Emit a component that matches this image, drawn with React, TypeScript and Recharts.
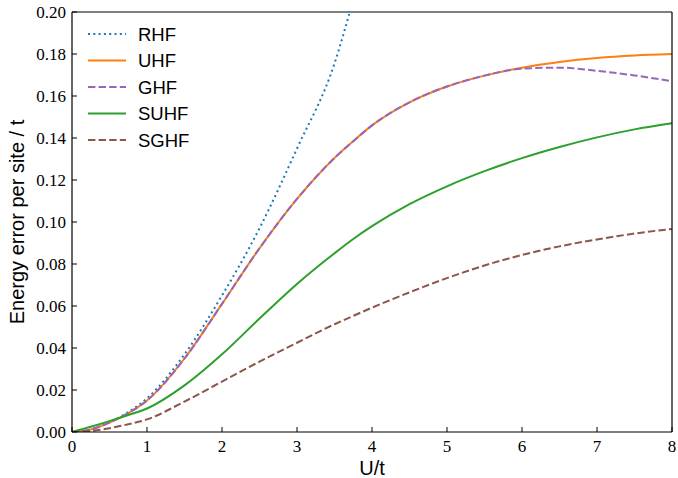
import React from 'react';
import { LineChart, Line, XAxis, YAxis } from 'recharts';

if (typeof document !== 'undefined') {
  document.body.style.margin = '0';
  document.body.style.overflow = 'hidden';
}

// U/t grid
const uValues = [0, 0.25, 0.5, 0.75, 1, 1.5, 2, 2.5, 3, 3.5, 3.75, 4, 4.5, 5, 5.5, 6, 6.5, 7, 7.5, 8];

const rhf = [0, 0.0012, 0.0046, 0.0095, 0.016, 0.037, 0.065, 0.097, 0.135, 0.1755, 0.206];
const uhf = [0, 0.0012, 0.0045, 0.009, 0.015, 0.035, 0.061, 0.0875, 0.111, 0.1305, 0.1385, 0.146, 0.157, 0.1645, 0.1697, 0.1735, 0.1762, 0.1781, 0.1793, 0.18];
const ghf = [0, 0.0012, 0.0045, 0.009, 0.015, 0.035, 0.061, 0.0875, 0.111, 0.1305, 0.1385, 0.146, 0.157, 0.1645, 0.1697, 0.173, 0.1735, 0.172, 0.1698, 0.167];
const suhf = [0, 0.0025, 0.0052, 0.0081, 0.0112, 0.0222, 0.037, 0.054, 0.0705, 0.0851, 0.0919, 0.098, 0.1085, 0.117, 0.1242, 0.1304, 0.1357, 0.1403, 0.1441, 0.147];
const sghf = [0, 0.0005, 0.0018, 0.0037, 0.006, 0.0145, 0.024, 0.0335, 0.0425, 0.0513, 0.0553, 0.0592, 0.0665, 0.0733, 0.0793, 0.0843, 0.0884, 0.0917, 0.0945, 0.0967];

const xTicks = [0, 1, 2, 3, 4, 5, 6, 7, 8];
const yTicks = [0, 0.02, 0.04, 0.06, 0.08, 0.1, 0.12, 0.14, 0.16, 0.18, 0.2];

const series = [
  { key: 'RHF', color: '#1f77b4', dash: '2 3.3' },
  { key: 'UHF', color: '#ff7f0e', dash: undefined },
  { key: 'GHF', color: '#9467bd', dash: '7.4 3.2' },
  { key: 'SUHF', color: '#2ca02c', dash: undefined },
  { key: 'SGHF', color: '#8c564b', dash: '7.4 3.2' },
];

const rows = uValues.map((u, i) => ({
  u,
  RHF: rhf[i],
  UHF: uhf[i],
  GHF: ghf[i],
  SUHF: suhf[i],
  SGHF: sghf[i],
}));

const serifFont = "'Liberation Serif', serif";
const sans = "'Liberation Sans', Arial, sans-serif";

function XTick(props: any) {
  const { x, y, payload } = props;
  return (
    <g>
      <text x={x} y={y + 13} textAnchor="middle" style={{ fontFamily: serifFont, fontSize: 17 }} fill="#000">
        {payload.value}
      </text>
    </g>
  );
}

function YTick(props: any) {
  const { x, y, payload } = props;
  return (
    <g>
      <text x={x} y={y + 6} textAnchor="end" style={{ fontFamily: serifFont, fontSize: 17 }} fill="#000">
        {Number(payload.value).toFixed(2)}
      </text>
    </g>
  );
}

function YLabel(props: any) {
  const vb = props.viewBox;
  const x = vb.x + 17;
  const y = vb.y + vb.height / 2;
  return (
    <text x={x} y={y} transform={`rotate(-90, ${x}, ${y})`} textAnchor="middle" dominantBaseline="central"
      style={{ fontFamily: sans, fontSize: 20 }} fill="#000">
      Energy error per site / t
    </text>
  );
}

function XLabel(props: any) {
  const vb = props.viewBox;
  return (
    <text x={vb.x + vb.width / 2} y={475} textAnchor="middle" style={{ fontFamily: sans, fontSize: 20 }} fill="#000">
      U/t
    </text>
  );
}

function LegendBox() {
  return (
    <svg width={200} height={160} style={{ position: 'absolute', left: 0, top: 0 }}>
      {series.map((s, i) => {
        const y = 34 + i * 26.5;
        return (
          <g key={s.key}>
            <line x1={88} x2={126} y1={y} y2={y} stroke={s.color} strokeWidth={2} strokeDasharray={s.dash} />
            <text x={138} y={y} dominantBaseline="central" style={{ fontFamily: sans, fontSize: 18.5 }} fill="#000">
              {s.key}
            </text>
          </g>
        );
      })}
    </svg>
  );
}

const frame = { stroke: '#000', strokeWidth: 1.2 };

export default function App() {
  return (
    <div style={{ position: 'relative', width: 678, height: 478, overflow: 'hidden', background: '#fff' }}>
      <LineChart width={678} height={478} data={rows} margin={{ top: 0, right: 0, left: 0, bottom: 0 }}>
        <XAxis
          dataKey="u"
          type="number"
          domain={[0, 8]}
          ticks={xTicks}
          allowDataOverflow
          height={46}
          tickSize={-5}
          tickMargin={12}
          tick={(p: any) => <XTick {...p} />}
          axisLine={frame}
          tickLine={{ stroke: '#000' }}
          label={<XLabel />}
        />
        <XAxis
          xAxisId="top"
          orientation="top"
          dataKey="u"
          type="number"
          domain={[0, 8]}
          ticks={xTicks}
          height={12}
          tickSize={-5}
          tick={false}
          axisLine={frame}
          tickLine={{ stroke: '#000' }}
        />
        <YAxis
          type="number"
          domain={[0, 0.2]}
          ticks={yTicks}
          allowDataOverflow
          width={72}
          tickSize={-5}
          tickMargin={11}
          tick={(p: any) => <YTick {...p} />}
          axisLine={frame}
          tickLine={{ stroke: '#000' }}
          label={<YLabel />}
        />
        <YAxis
          yAxisId="right"
          orientation="right"
          type="number"
          domain={[0, 0.2]}
          ticks={yTicks}
          width={6}
          tickSize={-5}
          tick={false}
          axisLine={frame}
          tickLine={{ stroke: '#000' }}
        />
        {series.map((s) => (
          <Line
            key={s.key}
            dataKey={s.key}
            type="monotone"
            stroke={s.color}
            strokeWidth={2}
            strokeDasharray={s.dash}
            dot={false}
            activeDot={false}
            isAnimationActive={false}
          />
        ))}
      </LineChart>
      <LegendBox />
    </div>
  );
}
